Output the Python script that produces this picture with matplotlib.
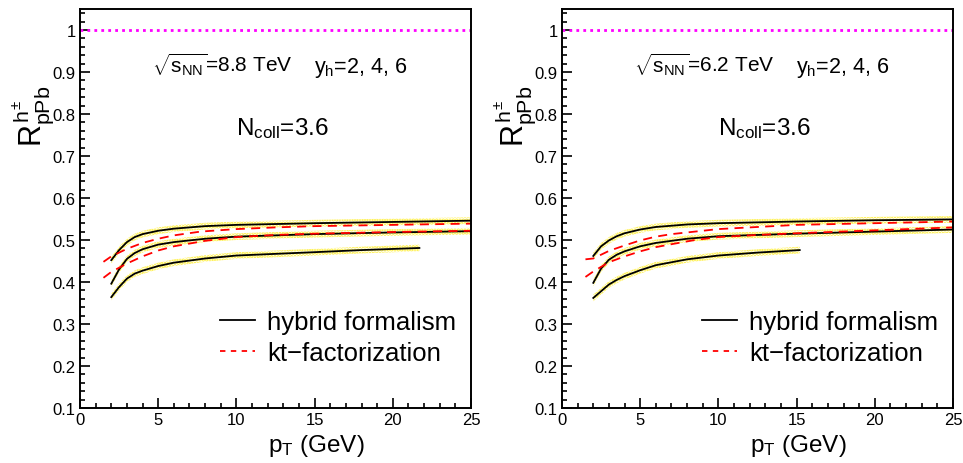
import numpy as np
import matplotlib
matplotlib.use('Agg')
import matplotlib.pyplot as plt
from matplotlib.ticker import MultipleLocator
from matplotlib.lines import Line2D

# --- data (pT in GeV, R_pPb) ---
# left panel: sqrt(s_NN) = 8.8 TeV
l_hyb_top_x = [2.0, 2.5, 3.0, 3.5, 4.0, 5.0, 6.0, 8.0, 10.0, 12.5, 15.0, 20.0, 25.0]
l_hyb_top_y = [0.452, 0.476, 0.495, 0.507, 0.514, 0.522, 0.527, 0.533, 0.536, 0.538, 0.540, 0.543, 0.546]
l_hyb_mid_x = [2.0, 2.5, 3.0, 3.5, 4.0, 5.0, 6.0, 8.0, 10.0, 12.5, 15.0, 20.0, 25.0]
l_hyb_mid_y = [0.396, 0.430, 0.455, 0.469, 0.478, 0.489, 0.495, 0.503, 0.508, 0.511, 0.514, 0.518, 0.521]
l_hyb_bot_x = [2.0, 2.5, 3.0, 3.5, 4.0, 5.0, 6.0, 8.0, 10.0, 12.5, 15.0, 18.0, 21.7]
l_hyb_bot_y = [0.364, 0.388, 0.408, 0.420, 0.427, 0.438, 0.446, 0.456, 0.463, 0.467, 0.471, 0.476, 0.481]
l_kt_top_x = [1.5, 2.0, 2.5, 3.0, 4.0, 5.0, 6.0, 7.7, 10.0, 12.5, 15.0, 20.0, 25.0]
l_kt_top_y = [0.448, 0.461, 0.470, 0.479, 0.493, 0.503, 0.511, 0.520, 0.526, 0.530, 0.533, 0.536, 0.539]
l_kt_bot_x = [1.5, 2.0, 2.5, 3.0, 4.0, 5.0, 6.0, 8.0, 10.0, 12.5, 15.0, 20.0, 25.0]
l_kt_bot_y = [0.410, 0.424, 0.434, 0.444, 0.461, 0.475, 0.485, 0.498, 0.507, 0.512, 0.515, 0.519, 0.522]

# right panel: sqrt(s_NN) = 6.2 TeV
r_hyb_top_x = [2.0, 2.5, 3.0, 3.5, 4.0, 5.0, 6.0, 8.0, 10.0, 12.5, 15.0, 20.0, 25.0]
r_hyb_top_y = [0.462, 0.485, 0.499, 0.509, 0.516, 0.525, 0.531, 0.537, 0.540, 0.542, 0.544, 0.547, 0.549]
r_hyb_mid_x = [2.0, 2.5, 3.0, 3.5, 4.0, 5.0, 6.0, 8.0, 10.0, 12.5, 15.0, 20.0, 25.0]
r_hyb_mid_y = [0.398, 0.432, 0.453, 0.465, 0.473, 0.485, 0.493, 0.503, 0.509, 0.512, 0.515, 0.520, 0.525]
r_hyb_bot_x = [2.0, 2.5, 3.0, 3.5, 4.0, 5.0, 6.0, 8.0, 10.0, 12.5, 15.2]
r_hyb_bot_y = [0.362, 0.378, 0.394, 0.405, 0.414, 0.428, 0.440, 0.454, 0.463, 0.470, 0.476]
r_kt_top_x = [1.5, 2.0, 3.0, 4.0, 5.0, 6.0, 7.0, 8.5, 10.0, 12.5, 15.0, 20.0, 25.0]
r_kt_top_y = [0.454, 0.456, 0.474, 0.487, 0.499, 0.508, 0.514, 0.520, 0.526, 0.531, 0.536, 0.540, 0.544]
r_kt_bot_x = [1.5, 2.0, 2.5, 3.0, 4.0, 5.0, 6.0, 7.0, 8.5, 10.0, 12.5, 15.0, 20.0, 25.0]
r_kt_bot_y = [0.412, 0.425, 0.436, 0.447, 0.461, 0.473, 0.483, 0.490, 0.500, 0.507, 0.512, 0.516, 0.523, 0.530]

band = 0.008  # half width of the yellow uncertainty band

energies = ['8.8', '6.2']

plt.rcParams['font.family'] = ['Liberation Sans', 'DejaVu Sans']
plt.rcParams['mathtext.fontset'] = 'custom'
plt.rcParams['mathtext.rm'] = 'Liberation Sans'
plt.rcParams['mathtext.it'] = 'Liberation Sans'
plt.rcParams['mathtext.bf'] = 'Liberation Sans:bold'
plt.rcParams['hatch.linewidth'] = 1.6


def draw_panel(ax, hybrid, kt, energy):
    # yellow dotted bands + black hybrid curves
    for x, y in hybrid:
        y = np.array(y)
        ax.fill_between(x, y - band, y + band, facecolor='none', edgecolor='#ffee22',
                        hatch='.....', linewidth=0)
        ax.plot(x, y, color='black', lw=1.3)
    for x, y in kt:
        ax.plot(x, y, color='red', lw=1.3, ls=(0, (5, 3.5)))

    ax.axhline(1.0, color='magenta', lw=2.0, ls=(0, (1, 1.5)))

    ax.set_xlim(0, 25)
    ax.set_ylim(0.1, 1.05)
    ax.xaxis.set_major_locator(MultipleLocator(5))
    ax.xaxis.set_minor_locator(MultipleLocator(1))
    ax.yaxis.set_minor_locator(MultipleLocator(0.02))
    ax.set_yticks(np.arange(0.1, 1.01, 0.1))
    ax.set_yticklabels(['0.1', '0.2', '0.3', '0.4', '0.5', '0.6', '0.7', '0.8', '0.9', '1'])
    ax.tick_params(which='both', direction='in', top=False, right=False, labelsize=12)
    ax.tick_params(which='major', length=7.5, width=1.2, pad=3)
    ax.tick_params(which='minor', length=3.8, width=1.2)
    for s in ax.spines.values():
        s.set_linewidth(1.4)

    ax.text(0.184, 0.843, r'$\sqrt{s_{NN}}$=' + energy + ' TeV', transform=ax.transAxes,
            fontsize=15, ha='left', va='baseline')
    ax.text(0.598, 0.843, r'y$_{h}$=2, 4, 6', transform=ax.transAxes,
            fontsize=15.5, ha='left', va='baseline')
    ax.text(0.398, 0.687, r'N$_{coll}$=3.6', transform=ax.transAxes,
            fontsize=17.5, ha='left', va='baseline')
    ax.text(0.48, -0.108, r'p$_{T}$ (GeV)', transform=ax.transAxes,
            fontsize=17.5, ha='left', va='baseline')
    ax.text(-0.118, 0.657, r'$R^{h^{\pm}}_{pPb}$', transform=ax.transAxes,
            fontsize=22, rotation=90, ha='center', va='bottom')

    handles = [Line2D([], [], color='black', lw=1.3),
               Line2D([], [], color='red', lw=1.3, ls=(0, (3, 3)))]
    ax.legend(handles, ['hybrid formalism', 'kt\u2212factorization'], loc='center left',
              bbox_to_anchor=(0.358, 0.177), frameon=False, fontsize=18.5,
              handlelength=1.36, handletextpad=0.47, labelspacing=0.3,
              borderpad=0, borderaxespad=0)


fig = plt.figure(figsize=(9.63, 4.64), dpi=100)
ax_l = fig.add_axes([80 / 963, 1 - 409 / 464, 391 / 963, 399 / 464])
ax_r = fig.add_axes([562 / 963, 1 - 409 / 464, 391 / 963, 399 / 464])

draw_panel(ax_l,
           [(l_hyb_top_x, l_hyb_top_y), (l_hyb_mid_x, l_hyb_mid_y), (l_hyb_bot_x, l_hyb_bot_y)],
           [(l_kt_top_x, l_kt_top_y), (l_kt_bot_x, l_kt_bot_y)], energies[0])
draw_panel(ax_r,
           [(r_hyb_top_x, r_hyb_top_y), (r_hyb_mid_x, r_hyb_mid_y), (r_hyb_bot_x, r_hyb_bot_y)],
           [(r_kt_top_x, r_kt_top_y), (r_kt_bot_x, r_kt_bot_y)], energies[1])

fig.savefig('out.png', dpi=100)
